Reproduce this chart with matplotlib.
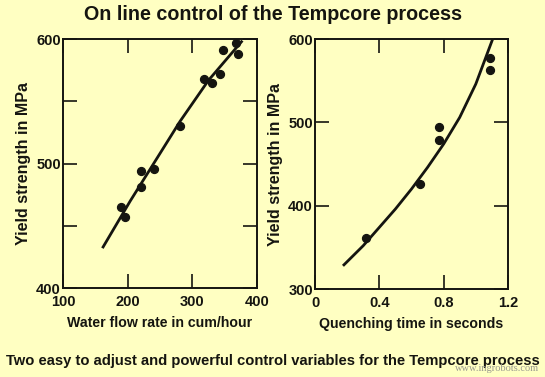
import matplotlib
matplotlib.use("Agg")
import matplotlib.pyplot as plt
from matplotlib.ticker import FixedLocator

BG = "#FFFFC2"
INK = "#151510"

# left panel: water flow rate (cum/hour) vs yield strength (MPa)
flow_pts = [189, 196, 221, 221, 240, 281, 318, 331, 343, 347, 368, 371]
flow_ys = [465, 457, 494, 481, 496, 530, 568, 565, 572, 591, 597, 588]
flow_fit_x = [162, 204, 263, 281, 325, 376]
flow_fit_y = [433, 470, 519, 534, 567, 598]

# right panel: quenching time (s) vs yield strength (MPa)
quench_pts = [0.315, 0.655, 0.769, 0.771, 1.09, 1.09]
quench_ys = [361, 426, 494, 479, 577, 563]
quench_fit_x = [0.18, 0.30, 0.40, 0.50, 0.60, 0.70, 0.80, 0.90, 1.00, 1.105]
quench_fit_y = [329, 352, 374, 396, 420, 446, 474, 506, 546, 600]

plt.rcParams["font.family"] = ["Liberation Sans", "DejaVu Sans"]
plt.rcParams["font.weight"] = "bold"

fig = plt.figure(figsize=(5.45, 3.77), dpi=100, facecolor=BG)
ax1 = fig.add_axes([0.1156, 0.236, 0.356, 0.660])
ax2 = fig.add_axes([0.578, 0.2334, 0.354, 0.663])


def style(ax, xt, yt, xlim, ylim):
    ax.set_facecolor(BG)
    ax.set_xlim(*xlim); ax.set_ylim(*ylim)
    ax.xaxis.set_major_locator(FixedLocator(xt[0]))
    ax.yaxis.set_major_locator(FixedLocator(yt[0]))
    ax.xaxis.set_minor_locator(FixedLocator(xt[1]))
    ax.yaxis.set_minor_locator(FixedLocator(yt[1]))
    for s in ax.spines.values():
        s.set_linewidth(1.4); s.set_color(INK)
    ax.tick_params(which="both", direction="in", length=10, width=1.2,
                   top=True, right=True, color=INK, labelsize=10.5,
                   labelcolor=INK)
    ax.tick_params(axis="x", pad=5)
    ax.tick_params(axis="y", pad=1.5)


ax1.scatter(flow_pts, flow_ys, s=32, color=INK, zorder=3)
ax1.plot(flow_fit_x, flow_fit_y, color=INK, lw=2.0)
style(ax1, ([100, 200, 300, 400], []), ([400, 500, 600], [450, 550]),
      (100, 400), (400, 600))
ax1.set_xticklabels(["100", "200", "300", "400"], fontweight="bold")
ax1.set_yticklabels(["400", "500", "600"], fontweight="bold")
ax1.set_xlabel("Water flow rate in cum/hour", fontsize=10.2, fontweight="bold",
               color=INK, labelpad=5)
ax1.set_ylabel("Yield strength in MPa", fontsize=11.5, fontweight="bold",
               color=INK, labelpad=4)

ax2.scatter(quench_pts, quench_ys, s=32, color=INK, zorder=3)
ax2.plot(quench_fit_x, quench_fit_y, color=INK, lw=2.0)
style(ax2, ([0, 0.4, 0.8, 1.2], []), ([300, 400, 500, 600], []),
      (0, 1.2), (300, 600))
ax2.set_xticklabels(["0", "0.4", "0.8", "1.2"], fontweight="bold")
ax2.set_yticklabels(["300", "400", "500", "600"], fontweight="bold")
ax2.set_xlabel("Quenching time in seconds", fontsize=10.2, fontweight="bold",
               color=INK, labelpad=5)
ax2.set_ylabel("Yield strength in MPa", fontsize=11.5, fontweight="bold",
               color=INK, labelpad=4)

fig.text(0.5, 0.962, "On line control of the Tempcore process", ha="center",
         va="center", fontsize=14.2, fontweight="bold", color=INK)
fig.text(0.5, 0.042, "Two easy to adjust and powerful control variables for the Tempcore process",
         ha="center", va="center", fontsize=10.6, fontweight="bold", color=INK)
fig.text(0.99, 0.022, "www.ingrobots.com", ha="right", va="center", fontsize=7.5,
         family="Liberation Serif", fontweight="normal", color="#9a9a90")

fig.savefig("out.png", dpi=100, facecolor=BG)
